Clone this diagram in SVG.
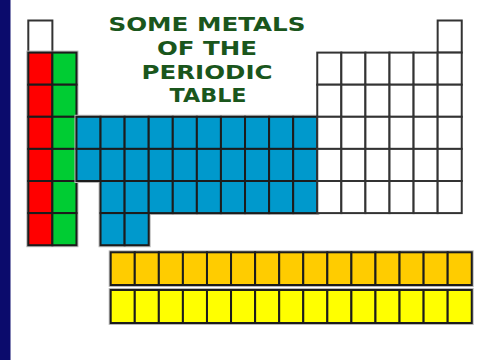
<svg xmlns="http://www.w3.org/2000/svg" xmlns:xlink="http://www.w3.org/1999/xlink" width="479" height="360" viewBox="0 0 479 360">
<style>
.cell{stroke:#1c1c1c;stroke-width:2}
.w{fill:#ffffff;stroke:#333333}
.r{fill:#ff0000}
.g{fill:#00cc33}
.b{fill:#0099cc}
.o{fill:#ffcc00}
.y{fill:#ffff00}
.halo{fill:none;stroke:#b8b8b8;stroke-width:4}
.title{font-family:"DejaVu Sans","Liberation Sans",sans-serif;font-weight:bold;font-size:20px;fill:#1a561c;text-anchor:middle}
</style>
<defs>
<rect id="c" width="24.08" height="32.1"/>
<rect id="l" width="24.07" height="32.7"/>
<rect id="a" width="24.07" height="33"/>
</defs>
<rect width="479" height="360" fill="#ffffff"/>
<rect x="0" y="0" width="10.5" height="360" fill="#0b0b6c"/>

<g id="title">
<text class="title" x="207" y="30.5" textLength="197" lengthAdjust="spacingAndGlyphs">SOME METALS</text>
<text class="title" x="207" y="54.5" textLength="100" lengthAdjust="spacingAndGlyphs">OF THE</text>
<text class="title" x="207" y="78.5" textLength="131" lengthAdjust="spacingAndGlyphs">PERIODIC</text>
<text class="title" x="208" y="102" textLength="77" lengthAdjust="spacingAndGlyphs">TABLE</text>
</g>

<g id="hydrogen">
<use xlink:href="#c" class="cell w" x="28.3" y="20.5"/>
</g>

<g id="helium">
<use xlink:href="#c" class="cell w" x="437.66" y="20.5"/>
</g>

<g id="alkali-metals">
<rect class="halo" x="28.3" y="52.6" width="48.16" height="192.6"/>
<use xlink:href="#c" class="cell r" x="28.3" y="52.6"/>
<use xlink:href="#c" class="cell r" x="28.3" y="84.7"/>
<use xlink:href="#c" class="cell r" x="28.3" y="116.8"/>
<use xlink:href="#c" class="cell r" x="28.3" y="148.9"/>
<use xlink:href="#c" class="cell r" x="28.3" y="181"/>
<use xlink:href="#c" class="cell r" x="28.3" y="213.1"/>
</g>

<g id="alkaline-earth-metals">
<use xlink:href="#c" class="cell g" x="52.38" y="52.6"/>
<use xlink:href="#c" class="cell g" x="52.38" y="84.7"/>
<use xlink:href="#c" class="cell g" x="52.38" y="116.8"/>
<use xlink:href="#c" class="cell g" x="52.38" y="148.9"/>
<use xlink:href="#c" class="cell g" x="52.38" y="181"/>
<use xlink:href="#c" class="cell g" x="52.38" y="213.1"/>
</g>

<g id="transition-metals">
<path class="halo" d="M76.46 116.8H317.26V213.1H148.7V245.2H100.54V181H76.46Z"/>
<use xlink:href="#c" class="cell b" x="76.46" y="116.8"/>
<use xlink:href="#c" class="cell b" x="100.54" y="116.8"/>
<use xlink:href="#c" class="cell b" x="124.62" y="116.8"/>
<use xlink:href="#c" class="cell b" x="148.7" y="116.8"/>
<use xlink:href="#c" class="cell b" x="172.78" y="116.8"/>
<use xlink:href="#c" class="cell b" x="196.86" y="116.8"/>
<use xlink:href="#c" class="cell b" x="220.94" y="116.8"/>
<use xlink:href="#c" class="cell b" x="245.02" y="116.8"/>
<use xlink:href="#c" class="cell b" x="269.1" y="116.8"/>
<use xlink:href="#c" class="cell b" x="293.18" y="116.8"/>
<use xlink:href="#c" class="cell b" x="76.46" y="148.9"/>
<use xlink:href="#c" class="cell b" x="100.54" y="148.9"/>
<use xlink:href="#c" class="cell b" x="124.62" y="148.9"/>
<use xlink:href="#c" class="cell b" x="148.7" y="148.9"/>
<use xlink:href="#c" class="cell b" x="172.78" y="148.9"/>
<use xlink:href="#c" class="cell b" x="196.86" y="148.9"/>
<use xlink:href="#c" class="cell b" x="220.94" y="148.9"/>
<use xlink:href="#c" class="cell b" x="245.02" y="148.9"/>
<use xlink:href="#c" class="cell b" x="269.1" y="148.9"/>
<use xlink:href="#c" class="cell b" x="293.18" y="148.9"/>
<use xlink:href="#c" class="cell b" x="100.54" y="181"/>
<use xlink:href="#c" class="cell b" x="124.62" y="181"/>
<use xlink:href="#c" class="cell b" x="148.7" y="181"/>
<use xlink:href="#c" class="cell b" x="172.78" y="181"/>
<use xlink:href="#c" class="cell b" x="196.86" y="181"/>
<use xlink:href="#c" class="cell b" x="220.94" y="181"/>
<use xlink:href="#c" class="cell b" x="245.02" y="181"/>
<use xlink:href="#c" class="cell b" x="269.1" y="181"/>
<use xlink:href="#c" class="cell b" x="293.18" y="181"/>
<use xlink:href="#c" class="cell b" x="100.54" y="213.1"/>
<use xlink:href="#c" class="cell b" x="124.62" y="213.1"/>
</g>

<g id="other-elements">
<use xlink:href="#c" class="cell w" x="317.26" y="52.6"/>
<use xlink:href="#c" class="cell w" x="341.34" y="52.6"/>
<use xlink:href="#c" class="cell w" x="365.42" y="52.6"/>
<use xlink:href="#c" class="cell w" x="389.5" y="52.6"/>
<use xlink:href="#c" class="cell w" x="413.58" y="52.6"/>
<use xlink:href="#c" class="cell w" x="437.66" y="52.6"/>
<use xlink:href="#c" class="cell w" x="317.26" y="84.7"/>
<use xlink:href="#c" class="cell w" x="341.34" y="84.7"/>
<use xlink:href="#c" class="cell w" x="365.42" y="84.7"/>
<use xlink:href="#c" class="cell w" x="389.5" y="84.7"/>
<use xlink:href="#c" class="cell w" x="413.58" y="84.7"/>
<use xlink:href="#c" class="cell w" x="437.66" y="84.7"/>
<use xlink:href="#c" class="cell w" x="317.26" y="116.8"/>
<use xlink:href="#c" class="cell w" x="341.34" y="116.8"/>
<use xlink:href="#c" class="cell w" x="365.42" y="116.8"/>
<use xlink:href="#c" class="cell w" x="389.5" y="116.8"/>
<use xlink:href="#c" class="cell w" x="413.58" y="116.8"/>
<use xlink:href="#c" class="cell w" x="437.66" y="116.8"/>
<use xlink:href="#c" class="cell w" x="317.26" y="148.9"/>
<use xlink:href="#c" class="cell w" x="341.34" y="148.9"/>
<use xlink:href="#c" class="cell w" x="365.42" y="148.9"/>
<use xlink:href="#c" class="cell w" x="389.5" y="148.9"/>
<use xlink:href="#c" class="cell w" x="413.58" y="148.9"/>
<use xlink:href="#c" class="cell w" x="437.66" y="148.9"/>
<use xlink:href="#c" class="cell w" x="317.26" y="181"/>
<use xlink:href="#c" class="cell w" x="341.34" y="181"/>
<use xlink:href="#c" class="cell w" x="365.42" y="181"/>
<use xlink:href="#c" class="cell w" x="389.5" y="181"/>
<use xlink:href="#c" class="cell w" x="413.58" y="181"/>
<use xlink:href="#c" class="cell w" x="437.66" y="181"/>
</g>

<g id="lanthanides">
<rect class="halo" x="110.7" y="252.3" width="361" height="32.7"/>
<use xlink:href="#l" class="cell o" x="110.7" y="252.3"/>
<use xlink:href="#l" class="cell o" x="134.77" y="252.3"/>
<use xlink:href="#l" class="cell o" x="158.84" y="252.3"/>
<use xlink:href="#l" class="cell o" x="182.91" y="252.3"/>
<use xlink:href="#l" class="cell o" x="206.98" y="252.3"/>
<use xlink:href="#l" class="cell o" x="231.05" y="252.3"/>
<use xlink:href="#l" class="cell o" x="255.12" y="252.3"/>
<use xlink:href="#l" class="cell o" x="279.19" y="252.3"/>
<use xlink:href="#l" class="cell o" x="303.26" y="252.3"/>
<use xlink:href="#l" class="cell o" x="327.33" y="252.3"/>
<use xlink:href="#l" class="cell o" x="351.4" y="252.3"/>
<use xlink:href="#l" class="cell o" x="375.47" y="252.3"/>
<use xlink:href="#l" class="cell o" x="399.54" y="252.3"/>
<use xlink:href="#l" class="cell o" x="423.61" y="252.3"/>
<use xlink:href="#l" class="cell o" x="447.68" y="252.3"/>
</g>

<g id="actinides">
<rect class="halo" x="110.7" y="290" width="361" height="33"/>
<use xlink:href="#a" class="cell y" x="110.7" y="290"/>
<use xlink:href="#a" class="cell y" x="134.77" y="290"/>
<use xlink:href="#a" class="cell y" x="158.84" y="290"/>
<use xlink:href="#a" class="cell y" x="182.91" y="290"/>
<use xlink:href="#a" class="cell y" x="206.98" y="290"/>
<use xlink:href="#a" class="cell y" x="231.05" y="290"/>
<use xlink:href="#a" class="cell y" x="255.12" y="290"/>
<use xlink:href="#a" class="cell y" x="279.19" y="290"/>
<use xlink:href="#a" class="cell y" x="303.26" y="290"/>
<use xlink:href="#a" class="cell y" x="327.33" y="290"/>
<use xlink:href="#a" class="cell y" x="351.4" y="290"/>
<use xlink:href="#a" class="cell y" x="375.47" y="290"/>
<use xlink:href="#a" class="cell y" x="399.54" y="290"/>
<use xlink:href="#a" class="cell y" x="423.61" y="290"/>
<use xlink:href="#a" class="cell y" x="447.68" y="290"/>
</g>
</svg>
